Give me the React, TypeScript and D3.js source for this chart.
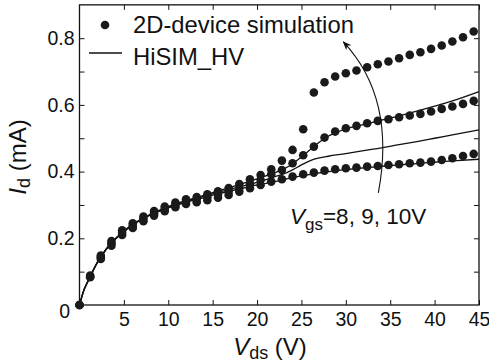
import { useEffect, useRef } from 'react';
import * as d3 from 'd3';

// 2D-device simulation points (Vds in V, Id in mA)
const vdsSim = [
    0, 1.2, 2.4, 3.6, 4.8, 6.0, 7.2, 8.4, 9.6, 10.8, 12.0, 13.2, 14.4, 15.6, 16.8, 18.0, 19.2, 20.4, 21.6,
    22.8, 24.0, 25.2, 26.4, 27.6, 28.8, 30.0, 31.2, 32.4, 33.6, 34.8, 36.0, 37.2, 38.4, 39.6, 40.8, 42.0, 43.2, 44.4,
];
const idSimVgs10 = [
    0, 0.088, 0.148, 0.192, 0.224, 0.245, 0.265, 0.282, 0.295, 0.307, 0.317, 0.324, 0.332, 0.341, 0.351, 0.363, 0.377, 0.39, 0.407,
    0.433, 0.465, 0.527, 0.637, 0.668, 0.685, 0.695, 0.703, 0.713, 0.722, 0.73, 0.74, 0.75, 0.758, 0.768, 0.778, 0.79, 0.803, 0.82,
];
const idSimVgs9 = [
    0, 0.085, 0.143, 0.185, 0.217, 0.238, 0.258, 0.275, 0.288, 0.3, 0.31, 0.316, 0.323, 0.331, 0.34, 0.351, 0.363, 0.375, 0.392,
    0.405, 0.425, 0.449, 0.475, 0.502, 0.52, 0.53, 0.537, 0.545, 0.552, 0.557, 0.563, 0.568, 0.573, 0.58, 0.588, 0.595, 0.603, 0.612,
];
const idSimVgs8 = [
    0, 0.083, 0.138, 0.178, 0.21, 0.231, 0.251, 0.268, 0.281, 0.293, 0.303, 0.308, 0.314, 0.322, 0.33, 0.34, 0.35, 0.36, 0.37,
    0.377, 0.385, 0.392, 0.397, 0.403, 0.407, 0.41, 0.412, 0.415, 0.417, 0.42, 0.422, 0.425, 0.427, 0.43, 0.435, 0.44, 0.447, 0.453,
];

// HiSIM_HV model curves
const vdsModel = [0, 0.5, 1, 2, 3, 4, 5, 6, 8, 10, 12, 14, 16, 18, 20, 21, 22, 23, 24, 25, 26, 27, 28, 30, 32, 34, 36, 38, 40, 42, 45];
const idModelVgs10 = [
    0, 0.045, 0.075, 0.128, 0.168, 0.198, 0.222, 0.242, 0.272, 0.295, 0.313, 0.329, 0.345, 0.361, 0.378, 0.387,
    0.397, 0.408, 0.423, 0.444, 0.466, 0.488, 0.506, 0.528, 0.541, 0.554, 0.567, 0.581, 0.596, 0.612, 0.64,
];
const idModelVgs9 = [
    0, 0.045, 0.074, 0.127, 0.167, 0.197, 0.221, 0.241, 0.271, 0.293, 0.311, 0.326, 0.341, 0.354, 0.368, 0.376,
    0.385, 0.393, 0.405, 0.42, 0.433, 0.441, 0.446, 0.454, 0.463, 0.471, 0.481, 0.49, 0.5, 0.51, 0.525,
];
const idModelVgs8 = [
    0, 0.045, 0.073, 0.126, 0.166, 0.196, 0.22, 0.24, 0.27, 0.291, 0.308, 0.322, 0.336, 0.348, 0.36, 0.365,
    0.37, 0.376, 0.382, 0.387, 0.392, 0.396, 0.4, 0.406, 0.411, 0.416, 0.42, 0.424, 0.428, 0.432, 0.437,
];

const xTicks = [5, 10, 15, 20, 25, 30, 35, 40, 45];
const yTicks = [0.1, 0.2, 0.3, 0.4, 0.5, 0.6, 0.7, 0.8];
const yLabelled = [0.2, 0.4, 0.6, 0.8];

// curved Vgs arrow, in data units (start, two controls, tip)
const arrowPts: [number, number][] = [[33.66, 0.336], [34.57, 0.465], [34.79, 0.645], [29.72, 0.789]];

const FONT = '"Liberation Sans", Arial, Helvetica, sans-serif';

export default function App() {
    const svgRef = useRef<SVGSVGElement>(null);

    useEffect(() => {
        if (!svgRef.current) return;
        document.body.style.margin = '0';

        const svg = d3.select(svgRef.current);
        svg.selectAll('*').remove();

        const x = d3.scaleLinear().domain([0, 45]).range([79.5, 479]);
        const y = d3.scaleLinear().domain([0, 0.9]).range([305, 4.85]);

        // Axes with inward ticks
        const bottom = svg.append('g')
            .attr('transform', `translate(0,${y(0)})`)
            .call(d3.axisBottom(x).tickValues(xTicks).tickSizeInner(-5).tickSizeOuter(0).tickPadding(7).tickFormat(d3.format('d')));
        const top = svg.append('g')
            .attr('transform', `translate(0,${y(0.9)})`)
            .call(d3.axisTop(x).tickValues(xTicks).tickSizeInner(-5).tickSizeOuter(0).tickFormat(() => ''));
        const left = svg.append('g')
            .attr('transform', `translate(${x(0)},0)`)
            .call(d3.axisLeft(y).tickValues(yTicks).tickSizeInner(-5).tickSizeOuter(0).tickPadding(5)
                .tickFormat(d => (yLabelled.some(v => Math.abs(v - (d as number)) < 1e-6) ? d3.format('.1f')(d as number) : '')));
        const right = svg.append('g')
            .attr('transform', `translate(${x(45)},0)`)
            .call(d3.axisRight(y).tickValues(yTicks).tickSizeInner(-5).tickSizeOuter(0).tickFormat(() => ''));

        [bottom, top, left, right].forEach(g => {
            g.select('.domain').remove();
            g.attr('font-family', FONT).attr('font-size', 19.5);
            g.selectAll('line').attr('stroke', '#111').attr('stroke-width', 1);
            g.selectAll('text').attr('fill', '#111');
        });

        svg.append('text')
            .attr('x', 70).attr('y', 318)
            .attr('text-anchor', 'end')
            .attr('font-family', FONT).attr('font-size', 19.5).attr('fill', '#111')
            .text('0');

        // Frame
        svg.append('rect')
            .attr('x', x(0)).attr('y', y(0.9))
            .attr('width', x(45) - x(0)).attr('height', y(0) - y(0.9))
            .attr('fill', 'none').attr('stroke', '#111').attr('stroke-width', 1.3);

        // Model lines
        const line = d3.line<number>()
            .x((_, i) => x(vdsModel[i]))
            .y(d => y(d))
            .curve(d3.curveMonotoneX);
        [idModelVgs10, idModelVgs9, idModelVgs8].forEach(s => {
            svg.append('path')
                .datum(s)
                .attr('fill', 'none')
                .attr('stroke', '#111')
                .attr('stroke-width', 1.3)
                .attr('d', line);
        });

        // Simulation dots
        [idSimVgs10, idSimVgs9, idSimVgs8].forEach(s => {
            svg.append('g').selectAll('circle')
                .data(s)
                .enter()
                .append('circle')
                .attr('cx', (_, i) => x(vdsSim[i]))
                .attr('cy', d => y(d))
                .attr('r', 4.3)
                .attr('fill', '#1a1a1a');
        });

        // Arrow
        svg.append('defs').append('marker')
            .attr('id', 'ah')
            .attr('viewBox', '0 0 10 10')
            .attr('refX', 9).attr('refY', 5)
            .attr('markerWidth', 9).attr('markerHeight', 9)
            .attr('markerUnits', 'userSpaceOnUse')
            .attr('orient', 'auto')
            .append('path')
            .attr('d', 'M0,1 L10,5 L0,9 L3,5 Z')
            .attr('fill', '#111');
        const p = arrowPts.map(([a, b]) => [x(a), y(b)]);
        svg.append('path')
            .attr('d', `M${p[0][0]},${p[0][1]} C${p[1][0]},${p[1][1]} ${p[2][0]},${p[2][1]} ${p[3][0]},${p[3][1]}`)
            .attr('fill', 'none')
            .attr('stroke', '#111')
            .attr('stroke-width', 1.1)
            .attr('marker-end', 'url(#ah)');

        // Annotation
        const ann = svg.append('text')
            .attr('x', 290).attr('y', 224)
            .attr('font-family', FONT).attr('font-size', 22.5).attr('fill', '#111');
        ann.append('tspan').attr('font-style', 'italic').text('V');
        ann.append('tspan').attr('font-size', 17).attr('dy', 6).text('gs');
        ann.append('tspan').attr('dy', -6).text('=8, 9, 10V');

        // Legend
        svg.append('circle').attr('cx', 105).attr('cy', 25).attr('r', 4.3).attr('fill', '#1a1a1a');
        svg.append('text')
            .attr('x', 133).attr('y', 33)
            .attr('font-family', FONT).attr('font-size', 23.8).attr('fill', '#111')
            .text('2D-device simulation');
        svg.append('line')
            .attr('x1', 89).attr('x2', 122).attr('y1', 53).attr('y2', 53)
            .attr('stroke', '#111').attr('stroke-width', 1.3);
        svg.append('text')
            .attr('x', 133).attr('y', 65)
            .attr('font-family', FONT).attr('font-size', 23.8).attr('fill', '#111')
            .text('HiSIM_HV');

        // Axis titles
        const xt = svg.append('text')
            .attr('x', 270).attr('y', 355)
            .attr('text-anchor', 'middle')
            .attr('font-family', FONT).attr('font-size', 24).attr('fill', '#111');
        xt.append('tspan').attr('font-style', 'italic').text('V');
        xt.append('tspan').attr('font-size', 18).attr('dy', 4).text('ds');
        xt.append('tspan').attr('dy', -4).text(' (V)');

        const yt = svg.append('text')
            .attr('transform', 'translate(26,157) rotate(-90)')
            .attr('text-anchor', 'middle')
            .attr('font-family', FONT).attr('font-size', 24).attr('fill', '#111');
        yt.append('tspan').attr('font-style', 'italic').text('I');
        yt.append('tspan').attr('font-size', 18).attr('dy', 4).text('d');
        yt.append('tspan').attr('dy', -4).text(' (mA)');
    }, []);

    return (
        <svg
            ref={svgRef}
            width={489}
            height={364}
            style={{ display: 'block', position: 'absolute', left: 0, top: 0, background: '#fff' }}
        />
    );
}
